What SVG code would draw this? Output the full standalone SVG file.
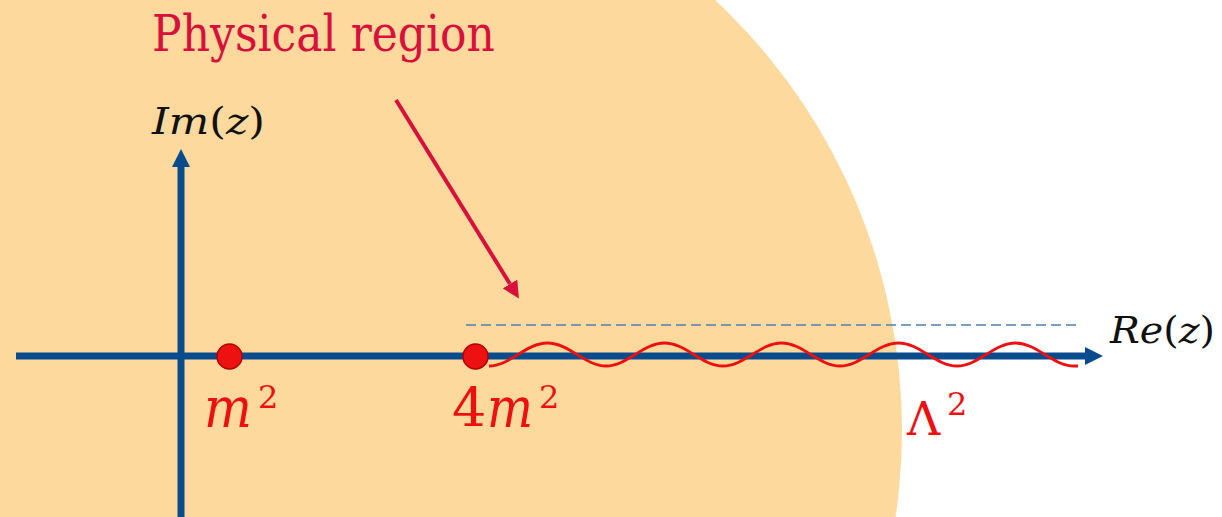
<svg xmlns="http://www.w3.org/2000/svg" width="1222" height="517" viewBox="0 0 1222 517">
  <defs>
    <style>
      .axis { stroke: #084c8d; stroke-width: 7; fill: none; }
      .math { font-family: "DejaVu Serif", "Liberation Serif", serif; }
      .red { fill: #ee1010; }
      .dot { fill: #ee1111; stroke: #b30000; stroke-width: 1.5; }
    </style>
    <marker id="blueHead" viewBox="0 0 10 10" refX="0" refY="5" markerUnits="userSpaceOnUse" markerWidth="18" markerHeight="18" orient="auto">
      <path d="M0,0 L10,5 L0,10 Z" fill="#084c8d"/>
    </marker>
    <marker id="redHead" viewBox="0 0 10 10" refX="0" refY="5" markerUnits="userSpaceOnUse" markerWidth="17" markerHeight="17" orient="auto">
      <path d="M0,0 L10,5 L0,10 Z" fill="#d9103c"/>
    </marker>
  </defs>
  <rect width="1222" height="517" fill="#ffffff"/>
  <circle id="physical-region-area" cx="314" cy="430" r="588" fill="#fdd99d"/>

  <g id="connectors">
    <line class="axis" x1="16" y1="356" x2="1085" y2="356" marker-end="url(#blueHead)"/>
    <line class="axis" x1="181" y1="517" x2="181" y2="167" marker-end="url(#blueHead)"/>
    <line x1="466" y1="325" x2="1080" y2="325" stroke="#4f7fb3" stroke-width="1.6" stroke-dasharray="10,5"/>
    <path id="branch-cut" d="M489,366 C510,366 526,343 547.5,343 S585,366 606,366 S643.5,343 664.5,343 S702,366 723,366 S760.5,343 781.5,343 S819,366 840,366 S877.5,343 898.5,343 S936,366 957,366 S994.5,343 1015.5,343 S1053,366 1074,366 L1078,366" fill="none" stroke="#ee1010" stroke-width="2.8"/>
    <line x1="396" y1="100" x2="510" y2="284" stroke="#d9103c" stroke-width="4" marker-end="url(#redHead)"/>
  </g>

  <g id="label-physical">
    <text class="math" x="152" y="51" font-size="50" fill="#d9103c" textLength="343" lengthAdjust="spacingAndGlyphs">Physical region</text>
  </g>
  <g id="label-im">
    <text class="math" x="152" y="134" font-size="38" fill="#111" textLength="113" lengthAdjust="spacingAndGlyphs"><tspan font-style="italic">Im</tspan>(<tspan font-style="italic">z</tspan>)</text>
  </g>
  <g id="label-re">
    <text class="math" x="1110" y="343" font-size="38" fill="#111" textLength="105" lengthAdjust="spacingAndGlyphs"><tspan font-style="italic">Re</tspan>(<tspan font-style="italic">z</tspan>)</text>
  </g>

  <g id="node-m2">
    <circle class="dot" cx="229.5" cy="356.5" r="12.5"/>
    <text class="math red" x="204" y="427" font-size="56" font-style="italic" textLength="48" lengthAdjust="spacingAndGlyphs">m</text>
    <text class="math red" x="258" y="408" font-size="32">2</text>
  </g>
  <g id="node-4m2">
    <circle class="dot" cx="475.5" cy="356.5" r="12.5"/>
    <text class="math red" x="452" y="427" font-size="54">4</text>
    <text class="math red" x="487" y="427" font-size="56" font-style="italic" textLength="46" lengthAdjust="spacingAndGlyphs">m</text>
    <text class="math red" x="539" y="408" font-size="32">2</text>
  </g>
  <g id="node-lambda2">
    <text class="math red" x="907" y="435" font-size="46">Λ</text>
    <text class="math red" x="947" y="415" font-size="32">2</text>
  </g>
</svg>
